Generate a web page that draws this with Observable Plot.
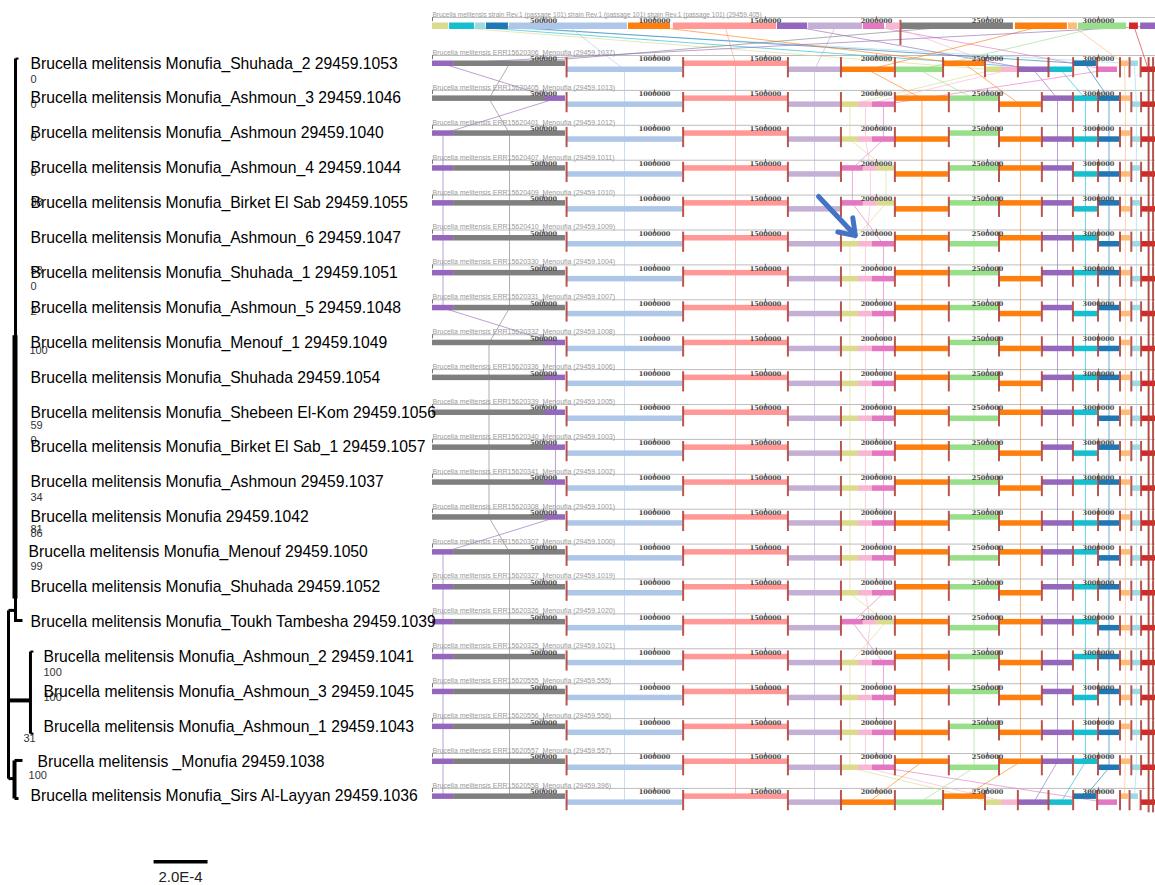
<!DOCTYPE html>
<html><head><meta charset="utf-8">
<script src="https://cdn.jsdelivr.net/npm/d3@7"></script>
<script src="https://cdn.jsdelivr.net/npm/@observablehq/plot@0.6"></script>
<style>
html,body{margin:0;padding:0;background:#fff;}
#wrap{position:relative;width:1155px;height:885px;overflow:hidden;background:#fff;}
#aln{position:absolute;left:430px;top:0;width:725px;height:885px;}
#tree{position:absolute;left:0;top:0;width:440px;height:885px;}
</style></head><body>
<div id="wrap"><div id="aln"></div><div id="tree"></div></div>
<script>
// ================= TREE DATA =================
const taxa = [
  "Brucella melitensis Monufia_Shuhada_2 29459.1053",
  "Brucella melitensis Monufia_Ashmoun_3 29459.1046",
  "Brucella melitensis Monufia_Ashmoun 29459.1040",
  "Brucella melitensis Monufia_Ashmoun_4 29459.1044",
  "Brucella melitensis Monufia_Birket El Sab 29459.1055",
  "Brucella melitensis Monufia_Ashmoun_6 29459.1047",
  "Brucella melitensis Monufia_Shuhada_1 29459.1051",
  "Brucella melitensis Monufia_Ashmoun_5 29459.1048",
  "Brucella melitensis Monufia_Menouf_1 29459.1049",
  "Brucella melitensis Monufia_Shuhada 29459.1054",
  "Brucella melitensis Monufia_Shebeen El-Kom 29459.1056",
  "Brucella melitensis Monufia_Birket El Sab_1 29459.1057",
  "Brucella melitensis Monufia_Ashmoun 29459.1037",
  "Brucella melitensis Monufia 29459.1042",
  "Brucella melitensis Monufia_Menouf 29459.1050",
  "Brucella melitensis Monufia_Shuhada 29459.1052",
  "Brucella melitensis Monufia_Toukh Tambesha 29459.1039",
  "Brucella melitensis Monufia_Ashmoun_2 29459.1041",
  "Brucella melitensis Monufia_Ashmoun_3 29459.1045",
  "Brucella melitensis Monufia_Ashmoun_1 29459.1043",
  "Brucella melitensis _Monufia 29459.1038",
  "Brucella melitensis Monufia_Sirs Al-Layyan 29459.1036"
];
// distance from root (substitutions/site) where each label starts
const taxonDist = [0.000111,0.000111,0.000111,0.000111,0.000111,0.000111,0.000111,0.000111,0.000111,0.000111,0.000111,
  0.000111,0.000111,0.000111,0.000104,0.000111,0.000111,0.000159,0.000159,0.000159,0.000137,0.000111];
// branches: [dist1, leaf1, dist2, leaf2, width]
const branches = [
  [0.0000556,-0.14,0.0000556,16.0,3],
  [0.0000556,-0.14,0.0000667,-0.14,2],
  [0.0000537,7.79,0.0000537,15.33,5],
  [0.0000556,15.96,0.0000815,15.96,3],
  [0.0000296,15.67,0.0000296,20.49,3],
  [0.0000296,15.67,0.0000556,15.67,3],
  [0.0000296,18.25,0.000111,18.25,4],
  [0.000111,16.85,0.000111,19.2,3],
  [0.000111,16.85,0.000122,16.85,2],
  [0.000111,19.2,0.000122,19.2,2],
  [0.0000296,20.49,0.0000519,20.49,3],
  [0.0000519,19.97,0.0000519,21.06,4],
  [0.0000519,19.97,0.0000815,19.97,3],
  [0.0000519,21.06,0.0000667,21.06,3]
];
// bootstrap supports: [text, dist, leaf position]
const bootstrap = [
  ["0",0.000111,0.46],["0",0.000111,1.17],["0",0.000111,2.12],["0",0.000111,3.12],
  ["38",0.000111,3.98],["58",0.000111,5.93],["0",0.000111,6.39],["2",0.000111,7.1],
  ["100",0.000107,8.22],["59",0.000111,10.37],["0",0.000111,10.8],["34",0.000111,12.44],
  ["81",0.000111,13.35],["86",0.000111,13.47],["99",0.000111,14.41],
  ["100",0.000159,17.45],["100",0.000159,18.17],["31",0.000085,19.34],["100",0.000104,20.4]
];
const scaleBarDist = [0.000567, 0.000767];
const scaleBarLabel = "2.0E-4";

// ================= ALIGNMENT DATA =================
const lcbIds    = ["P","G","LB","S","L","O1","GR","O2","YG","PK","MG","P3","T","DB","LO","LC","R"];
const lcbColors = ["#9467bd","#7f7f7f","#aec7e8","#ff9896","#c5b0d5","#ff7f0e","#98df8a","#ff7f0e","#dbdb8d","#f7b6d2","#e377c2","#9467bd","#17becf","#1f77b4","#ffbb78","#9edae5","#d62728"];

const refTitle = "Brucella melitensis strain Rev.1 (passage 101) strain Rev.1 (passage 101) strain Rev.1 (passage 101) (29459.405)";
// reference genome blocks: [lcb, start kbp, end kbp]
const refBlocks = [
  ["YG",0,72],["T",77,189],["LC",194,239],["DB",243,342],["LB",347,878],["O2",883,1072],
  ["S",1085,1550],["P3",1554,1690],["L",1694,1937],["MG",1941,2036],["PK",2045,2104],
  ["G",2113,2617],["O1",2626,2860],["LO",2865,2905],["GR",2910,3127],["R",3140,3180],["P",3190,3257]
];
const refBounds = [2108];

const rowTitles = [
  "Brucella melitensis ERR15620306_Menoufia (29459.1037)",
  "Brucella melitensis ERR15620405_Menoufia (29459.1013)",
  "Brucella melitensis ERR15620401_Menoufia (29459.1012)",
  "Brucella melitensis ERR15620407_Menoufia (29459.1011)",
  "Brucella melitensis ERR15620409_Menoufia (29459.1010)",
  "Brucella melitensis ERR15620410_Menoufia (29459.1009)",
  "Brucella melitensis ERR15620330_Menoufia (29459.1004)",
  "Brucella melitensis ERR15620331_Menoufia (29459.1007)",
  "Brucella melitensis ERR15620332_Menoufia (29459.1008)",
  "Brucella melitensis ERR15620336_Menoufia (29459.1006)",
  "Brucella melitensis ERR15620339_Menoufia (29459.1005)",
  "Brucella melitensis ERR15620340_Menoufia (29459.1003)",
  "Brucella melitensis ERR15620341_Menoufia (29459.1002)",
  "Brucella melitensis ERR15620308_Menoufia (29459.1001)",
  "Brucella melitensis ERR15620307_Menoufia (29459.1000)",
  "Brucella melitensis ERR15620327_Menoufia (29459.1019)",
  "Brucella melitensis ERR15620326_Menoufia (29459.1020)",
  "Brucella melitensis ERR15620325_Menoufia (29459.1021)",
  "Brucella melitensis ERR15620555_Menoufia (29459.555)",
  "Brucella melitensis ERR15620556_Menoufia (29459.556)",
  "Brucella melitensis ERR15620557_Menoufia (29459.557)",
  "Brucella melitensis ERR15620558_Menoufia (29459.396)"
];
const rowTemplate = ["A","B","B","B","B","B","B","B","B","B","B","B","B","B","B","B","B","B","B","B","B","A"];
const purpleAtEnd = [0,1,0,0,0,0,0,0,1,1,1,1,1,1,0,0,0,0,0,0,0,0];
const tripleOrder = ["","YPM","YPM","MPY","MPY","YPM","YPM","YPM","YPM","YPM","YPM","YPM","YPM","YPM","YPM","YPM","MPY","YPM","YPM","YPM","YPM",""];
const rowLevels = [
  "u u l u l | l l u | l l l l | u l u u l",
  "u u l u l | l l l | u u l | u u u | u l l",
  "u u l u l | l l l | l u l | l l l | u l l",
  "u u l u l | u u u | l u u | u l l | l u l",
  "u u l u l | u u u | l u u | u l u | l u l",
  "u u l u l | l l l | u l u | u u l | u l l",
  "u u l u l | l l l | u u l | u u u | u l l",
  "u u l u l | l l l | u u l | u l u | l u l",
  "u u l u l | l l l | l u l | l l l | u l l",
  "u u l u l | l l l | u u l | u u u | u l l",
  "u u l u l | l l l | u l u | u u l | u l l",
  "u u l u l | l l l | u u l | u l u | l u l",
  "u u l u l | l l l | u u l | u u u | u l l",
  "u u l u l | l l l | l u l | l l l | u l l",
  "u u l u l | l l l | u l u | u u l | u l l",
  "u u l u l | l l l | u u l | u u u | l l l",
  "u u l u l | u u u | u l u | u u l | l l l",
  "u u l u l | l l l | u u l | l u u | l l l",
  "u u l u l | l l l | u u l | u l u | l u l",
  "u u l u l | l l l | l u l | l l l | u l l",
  "u u l u l | l l l | u l u | u u l | u l l",
  "u u l u l | l l u | l l l l | u l u u l"
];
// block slots (kbp)
const slotsA_ids = ["P","G","LB","S","L","O1","GR","O2","YG","PK","P3","T","DB","MG","LO","LC","R"];
const slotsA = [[0,95],[95,599],[604,1126],[1131,1599],[1604,1838],[1842,2081],[2086,2298],[2302,2489],[2491,2563],[2563,2635],[2640,2775],[2775,2884],[2888,2991],[2996,3086],[3099,3135],[3144,3180],[3194,3257]];
const headStart_ids = ["P","G"], headStart = [[0,95],[95,599]];
const headEnd_ids = ["G","P"], headEnd = [[0,509],[509,599]];
const midB_ids = ["LB","S","L"], midB = [[604,1126],[1131,1599],[1604,1838]];
const tripleYPM_ids = ["YG","PK","MG"], tripleYPM = [[1842,1919],[1919,1982],[1982,2081]];
const tripleMPY_ids = ["MG","PK","YG"], tripleMPY = [[1842,1941],[1941,2004],[2004,2081]];
const tailB_ids = ["O1","GR","O2","P3","T","DB","LO","LC","R"];
const tailB = [[2086,2324],[2329,2550],[2554,2743],[2748,2883],[2887,2996],[3000,3095],[3099,3144],[3153,3189],[3194,3257]];
const boundsA = [604,1129,1601,1840,2083,2300,2489,2637,2775,2886,2994,3097,3140,3190];
const boundsB = [604,1129,1601,1840,2083,2326,2552,2745,2885,2998,3097,3148,3192];
const rightEdgeBounds = [3226,3246];
const tickValues = [500000,1000000,1500000,2000000,2500000,3000000];
const tickLabels = ["500000","1000000","1500000","2000000","2500000","3000000"];
const refRow = -1.089;
const arrowSpec = [{x1:1739000, y1:4.04, x2:1905000, y2:5.16}];

// ================= BUILD =================
const colorOf = Object.fromEntries(lcbIds.map((id,i)=>[id,lcbColors[i]]));
const pitch = 34.9;
const LEV = {u:[5.5/pitch,11/pitch], l:[11.5/pitch,17/pitch], r:[5.5/pitch,12/pitch]};

const blocks = [];
refBlocks.forEach(([id,s,e])=>{
  const [a,b] = LEV.r;
  blocks.push({row:refRow, order:-1, id, x1:s*1000, x2:e*1000, y1:refRow+a, y2:refRow+b, yc:refRow+(a+b)/2, color:colorOf[id]});
});
rowTitles.forEach((t,k)=>{
  let ids, slots;
  if (rowTemplate[k]==="A") { ids = slotsA_ids; slots = slotsA; }
  else {
    const h = purpleAtEnd[k] ? [headEnd_ids, headEnd] : [headStart_ids, headStart];
    const tr = tripleOrder[k]==="MPY" ? [tripleMPY_ids, tripleMPY] : [tripleYPM_ids, tripleYPM];
    ids = [...h[0], ...midB_ids, ...tr[0], ...tailB_ids];
    slots = [...h[1], ...midB, ...tr[1], ...tailB];
  }
  const lev = rowLevels[k].replace(/\|/g," ").trim().split(/\s+/);
  ids.forEach((id,j)=>{
    const [a,b] = LEV[lev[j]];
    blocks.push({row:k, order:k, id, x1:slots[j][0]*1000, x2:slots[j][1]*1000, y1:k+a, y2:k+b, yc:k+(a+b)/2, color:colorOf[id]});
  });
});
// connection points
const conn = blocks.map(b=>({id:b.id, order:b.order, x:(b.x1+b.x2)/2, y:b.yc, color:b.color}))
  .sort((a,b)=>a.order-b.order);

const rulerRows = [refRow, ...rowTitles.map((t,k)=>k)];
const bounds = [];
refBounds.forEach(x=>bounds.push({x:x*1000, y1:refRow+0.08, y2:refRow+0.8}));
rowTitles.forEach((t,k)=>{
  const bl = rowTemplate[k]==="A" ? boundsA : boundsB;
  bl.forEach(x=>bounds.push({x:x*1000, y1:k+0.06, y2:k+0.64}));
  rightEdgeBounds.forEach(x=>bounds.push({x:x*1000, y1:k+0.06, y2:k<rowTitles.length-1 ? k+1.06 : k+0.7}));
});
const ticks = [];
rulerRows.forEach(r=>tickValues.forEach((v,i)=>ticks.push({x:v, row:r, label:tickLabels[i]})));
const titles = [{row:refRow, t:refTitle, fs:6.5}, ...rowTitles.map((t,k)=>({row:k, t, fs:7}))];

const FONT = "Liberation Sans, Arial, sans-serif";

const aln = Plot.plot({
  width:725, height:885, margin:0,
  x:{domain:[0,3257000], range:[2,725], axis:null},
  y:{domain:[-1.576,23.782], range:[0,885], axis:null},
  color:{type:"identity"},
  style:{background:"white", overflow:"visible"},
  marks:[
    Plot.ruleY(rulerRows, {y:d=>d, x1:0, x2:3257000, stroke:"#b5b5b5", strokeWidth:0.9}),
    Plot.ruleX(rulerRows, {x:0, y1:d=>d, y2:d=>d+0.12, stroke:"#777", strokeWidth:1}),
    Plot.line(conn, {x:"x", y:"y", z:"id", stroke:"color", strokeWidth:0.9, strokeOpacity:0.7}),
    Plot.rect(blocks, {x1:"x1", x2:"x2", y1:"y1", y2:"y2", fill:"color"}),
    Plot.ruleX(bounds, {x:"x", y1:"y1", y2:"y2", stroke:"#b3423b", strokeWidth:2, strokeOpacity:0.9}),
    Plot.ruleX(ticks, {x:"x", y1:d=>d.row-0.02, y2:d=>d.row+0.1, stroke:"#555", strokeWidth:0.8}),
    Plot.text(ticks, {x:"x", y:d=>d.row+0.11, text:"label", fontSize:6.5, fill:"#444", fontFamily:"DejaVu Serif, serif", fontWeight:"bold"}),
    Plot.text(titles, {x:0, y:d=>d.row-0.015, text:"t", fontSize:"fs", lineAnchor:"bottom", textAnchor:"start", fill:"#9a9a9a", fontFamily:FONT}),
    Plot.arrow(arrowSpec, {x1:"x1", y1:"y1", x2:"x2", y2:"y2", stroke:"#4472c4", strokeWidth:5, headLength:16, headAngle:70})
  ]
});
document.getElementById("aln").appendChild(aln);

const treeLabels = taxa.map((t,i)=>({t, x:taxonDist[i], y:i}));
const tree = Plot.plot({
  width:440, height:885, margin:0,
  x:{domain:[0,0.00163], range:[0,440], axis:null},
  y:{domain:[-1.805,23.553], range:[0,885], axis:null},
  style:{background:"transparent", overflow:"visible"},
  marks:[
    Plot.link(branches, {x1:d=>d[0], y1:d=>d[1], x2:d=>d[2], y2:d=>d[3], stroke:"black", strokeWidth:d=>d[4]}),
    Plot.text(bootstrap, {x:d=>d[1], y:d=>d[2], text:d=>d[0], textAnchor:"start", fontSize:11, fill:"#333", fontFamily:FONT}),
    Plot.text(treeLabels, {x:"x", y:"y", text:"t", textAnchor:"start", fontSize:15.7, fill:"black", fontFamily:FONT}),
    Plot.link([scaleBarDist], {x1:d=>d[0], x2:d=>d[1], y1:22.87, y2:22.87, stroke:"black", strokeWidth:3.5}),
    Plot.text([scaleBarLabel], {x:(scaleBarDist[0]+scaleBarDist[1])/2, y:23.32, text:d=>d, fontSize:15, fill:"#222", fontFamily:FONT})
  ]
});
document.getElementById("tree").appendChild(tree);
</script>
</body></html>
